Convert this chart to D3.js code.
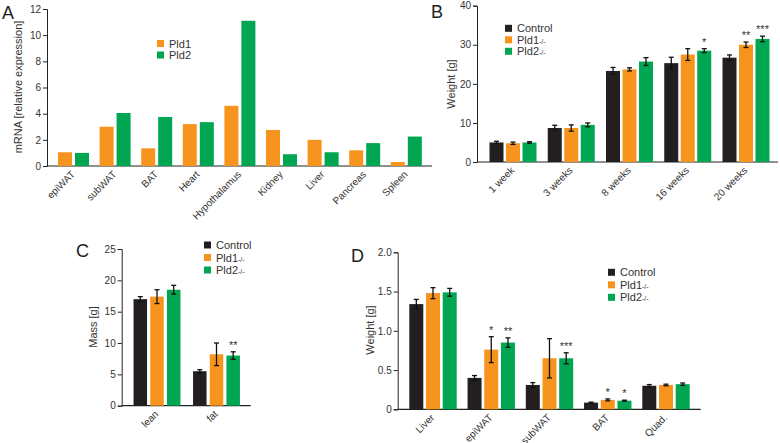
<!DOCTYPE html>
<html><head><meta charset="utf-8">
<script src="https://cdn.jsdelivr.net/npm/d3@7"></script>
<style>
body{margin:0;background:#fff;}
svg{display:block;font-family:"Liberation Sans",Arial,sans-serif;}
</style></head>
<body><svg id="c" width="780" height="443"></svg>
<script>
// ---------- DATA ----------
const tissuesA = ["epiWAT","subWAT","BAT","Heart","Hypothalamus","Kidney","Liver","Pancreas","Spleen"];
const pld1A = [1.05,3.0,1.35,3.2,4.6,2.75,2.0,1.2,0.3];
const pld2A = [1.0,4.05,3.75,3.35,11.1,0.9,1.05,1.75,2.25];
const ticksA = [0,2,4,6,8,10,12];

const agesB = ["1 week","3 weeks","8 weeks","16 weeks","20 weeks"];
const ctrlB = [5.0,8.7,23.3,25.3,26.7];
const ctrlBerr = [0.3,0.7,0.9,1.5,0.7];
const pld1B = [4.8,8.7,23.7,27.5,30.0];
const pld1Berr = [0.3,0.8,0.4,1.5,0.7];
const pld2B = [5.0,9.5,25.7,28.5,31.5];
const pld2Berr = [0.2,0.5,1.0,0.5,0.7];
const starsB = [["","",""],["","",""],["","",""],["","","*"],["","**","***"]];
const ticksB = [0,10,20,30,40];

const compC = ["lean","fat"];
const ctrlC = [17.0,5.5];
const ctrlCerr = [0.4,0.25];
const pld1C = [17.4,8.2];
const pld1Cerr = [1.1,1.8];
const pld2C = [18.5,8.0];
const pld2Cerr = [0.7,0.6];
const starsC = [["","",""],["","","**"]];
const ticksC = [0,5,10,15,20,25];

const organsD = ["Liver","epiWAT","subWAT","BAT","Quad."];
const ctrlD = [1.34,0.40,0.31,0.085,0.30];
const ctrlDerr = [0.06,0.03,0.03,0.006,0.015];
const pld1D = [1.48,0.76,0.65,0.12,0.31];
const pld1Derr = [0.07,0.165,0.25,0.012,0.01];
const pld2D = [1.49,0.85,0.65,0.11,0.32];
const pld2Derr = [0.05,0.06,0.07,0.006,0.015];
const starsD = [["","",""],["","*","**"],["","","***"],["","*","*"],["","",""]];
const ticksD = [0,0.5,1.0,1.5,2.0];
const tickLabelsD = ["0","0.5","1.0","1.5","2.0"];

const COL = {ctrl:"#231f20", pld1:"#f7941d", pld2:"#00a651"};
const TXT = "#333";

const svg = d3.select("#c");

function panel(o){
  const g = svg.append("g");
  const y = d3.scaleLinear().domain([0,o.ymax]).range([o.yb,o.yt]);
  const xc = d3.scalePoint().domain(o.cats).range([o.c0,o.c1]);
  // y axis
  const ya = d3.axisLeft(y).tickValues(o.ticks).tickSizeOuter(0).tickSize(4).tickPadding(2)
    .tickFormat((d,i)=>o.tickLabels?o.tickLabels[i]:d);
  const yg = g.append("g").attr("transform",`translate(${o.x0},0)`).call(ya);
  yg.select(".domain").attr("stroke","#222");
  yg.selectAll(".tick line").attr("stroke","#222");
  yg.selectAll("text").attr("fill",TXT).style("font-size","10px").style("font-family","Liberation Sans, Arial, sans-serif");
  // x axis line
  g.append("line").attr("x1",o.x0).attr("x2",o.x1).attr("y1",o.yb).attr("y2",o.yb).attr("stroke","#222").attr("stroke-width",1.2);
  // x labels
  o.cats.forEach(c=>{
    const px = xc(c)+2, py = o.yb+9;
    g.append("text").attr("transform",`translate(${px},${py}) rotate(-45)`)
      .attr("text-anchor","end").attr("fill",TXT).style("font-size","10px").text(c);
  });
  // bars
  const n = o.series.length;
  o.series.forEach((s,si)=>{
    o.cats.forEach((c,ci)=>{
      const cx = xc(c) + (si-(n-1)/2)*o.step;
      const v = s.vals[ci];
      g.append("rect").attr("x",cx-o.bw/2).attr("width",o.bw)
        .attr("y",y(v)).attr("height",o.yb-y(v)).attr("fill",s.color);
      let top = y(v);
      if(s.err){
        const e = s.err[ci];
        const yt = y(v+e), ybb = y(v-e);
        g.append("line").attr("x1",cx).attr("x2",cx).attr("y1",yt).attr("y2",ybb).attr("stroke","#111").attr("stroke-width",1.3);
        [yt,ybb].forEach(yy=>g.append("line").attr("x1",cx-2.5).attr("x2",cx+2.5).attr("y1",yy).attr("y2",yy).attr("stroke","#111").attr("stroke-width",1.3));
        top = yt;
      }
      if(o.stars && o.stars[ci][si]){
        g.append("text").attr("x",cx).attr("y",top-3).attr("text-anchor","middle")
          .attr("fill",TXT).style("font-size","11px").text(o.stars[ci][si]);
      }
    });
  });
  // y label
  g.append("text").attr("transform",`translate(${o.ylx},${o.yly}) rotate(-90)`)
    .attr("text-anchor","middle").attr("fill",TXT).style("font-size","11px").text(o.ylabel);
  // panel letter
  g.append("text").attr("x",o.lx).attr("y",o.ly).attr("fill","#222").style("font-size","18px").text(o.letter);
  // legend
  o.series.forEach((s,si)=>{
    const ly = o.legY + si*o.legStep;
    g.append("rect").attr("x",o.legX).attr("y",ly-3.5).attr("width",7).attr("height",7).attr("fill",s.color);
    const t = g.append("text").attr("x",o.legX+12).attr("y",ly+4).attr("fill",TXT).style("font-size","11px");
    t.append("tspan").text(s.name);
    if(s.sup) t.append("tspan").style("font-size","7px").text(s.sup);
  });
}

panel({letter:"A",lx:2,ly:19,x0:47,x1:432,yt:9,yb:166,ymax:12,ticks:ticksA,
  cats:tissuesA,c0:73.5,c1:406.3,bw:14,step:17,
  series:[{name:"Pld1",color:COL.pld1,vals:pld1A},{name:"Pld2",color:COL.pld2,vals:pld2A}],
  ylabel:"mRNA [relative expression]",ylx:22,yly:87,legX:157,legY:43.5,legStep:11.5});

panel({letter:"B",lx:431,ly:18,x0:477,x1:778,yt:5.7,yb:162,ymax:40,ticks:ticksB,
  cats:agesB,c0:513,c1:746,bw:14,step:16.5,stars:starsB,
  series:[{name:"Control",color:COL.ctrl,vals:ctrlB,err:ctrlBerr},
          {name:"Pld1",sup:"-/-",color:COL.pld1,vals:pld1B,err:pld1Berr},
          {name:"Pld2",sup:"-/-",color:COL.pld2,vals:pld2B,err:pld2Berr}],
  ylabel:"Weight [g]",ylx:455,yly:84,legX:505,legY:28.3,legStep:11.5});

panel({letter:"C",lx:76,ly:257,x0:121.7,x1:250.7,yt:249,yb:405.7,ymax:25,ticks:ticksC,
  cats:compC,c0:157,c1:216.5,bw:13.5,step:16.7,stars:starsC,
  series:[{name:"Control",color:COL.ctrl,vals:ctrlC,err:ctrlCerr},
          {name:"Pld1",sup:"-/-",color:COL.pld1,vals:pld1C,err:pld1Cerr},
          {name:"Pld2",sup:"-/-",color:COL.pld2,vals:pld2C,err:pld2Cerr}],
  ylabel:"Mass [g]",ylx:97,yly:327,legX:204,legY:245,legStep:12.5});

panel({letter:"D",lx:351,ly:262,x0:397.7,x1:700.7,yt:252.3,yb:409.3,ymax:2.0,ticks:ticksD,tickLabels:tickLabelsD,
  cats:organsD,c0:433,c1:666,bw:14,step:16.7,stars:starsD,
  series:[{name:"Control",color:COL.ctrl,vals:ctrlD,err:ctrlDerr},
          {name:"Pld1",sup:"-/-",color:COL.pld1,vals:pld1D,err:pld1Derr},
          {name:"Pld2",sup:"-/-",color:COL.pld2,vals:pld2D,err:pld2Derr}],
  ylabel:"Weight [g]",ylx:374,yly:330,legX:608,legY:272.3,legStep:12.5});
</script></body></html>
